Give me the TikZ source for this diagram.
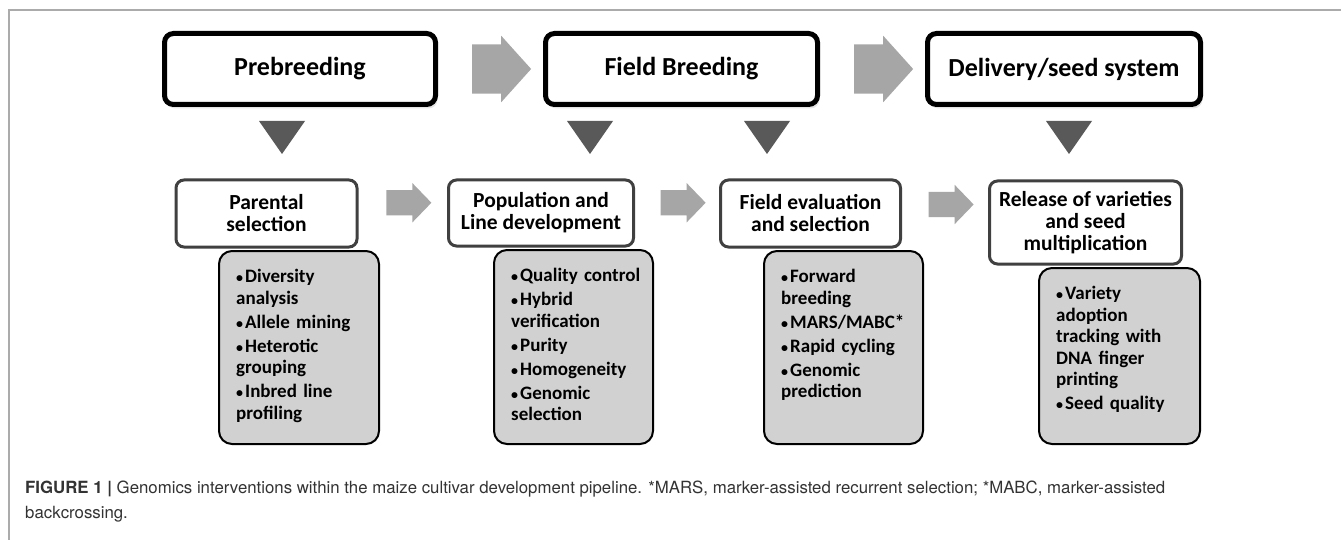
\documentclass[tikz,border=0pt]{standalone}
\usepackage{fontspec}
\setmainfont{Carlito}
\newfontfamily\capfont{TeX Gyre Heros}
\usetikzlibrary{calc}
\usetikzlibrary{shapes.arrows}
\usetikzlibrary{shadows}

\definecolor{arrowgray}{HTML}{A6A6A6}
\definecolor{trigray}{HTML}{595959}
\definecolor{listgray}{HTML}{D1D1D1}
\definecolor{edgegray}{HTML}{404040}
\definecolor{framegray}{HTML}{ABABAB}
\definecolor{capgray}{HTML}{333333}

\newcommand{\bul}[1]{\par\hangindent=9pt\hangafter=1\noindent\makebox[9pt][l]{\fontsize{14}{14}\selectfont\textbullet}#1}

\tikzset{
	stagebox/.style={draw=black, line width=5pt, rounded corners=9pt, fill=white, align=center, inner sep=0pt, font=\fontsize{26}{30}\selectfont\bfseries, drop shadow={shadow xshift=2pt, shadow yshift=-4pt, opacity=0.2}},
	stepbox/.style={draw=edgegray, line width=3pt, rounded corners=8pt, fill=white, align=center, inner sep=0pt, font=\fontsize{21.5}{22}\selectfont\bfseries},
	listbox/.style={draw=black, line width=2pt, rounded corners=13pt, fill=listgray, inner sep=0pt},
	listtext/.style={anchor=north west, inner sep=0pt, text width=145pt, align=left, font=\fontsize{19}{21.5}\selectfont\bfseries\setlength{\parskip}{2.5pt}},
	bigarrow/.style={single arrow, fill=arrowgray, inner xsep=0pt, inner ysep=24.5pt, minimum height=59pt, single arrow head extend=8.5pt, single arrow tip angle=96},
	smallarrow/.style={single arrow, fill=arrowgray, inner xsep=0pt, inner ysep=12.5pt, minimum height=45pt, single arrow head extend=7pt, single arrow tip angle=92},
}

\begin{document}
\begin{tikzpicture}[x=1pt, y=-1pt]
	\useasboundingbox (0,0) rectangle (1341,540);
	\fill[white] (0,0) rectangle (1341,540);
	\draw[framegray, line width=1.5pt] (9,540) -- (9,10) -- (1341,10);

	% stages
	\node[stagebox, minimum width=271pt, minimum height=71pt] (pre) at (300,69) {Prebreeding};
	\node[stagebox, minimum width=272pt, minimum height=71pt] (fb) at (681.5,69) {Field Breeding};
	\node[stagebox, minimum width=273pt, minimum height=71pt] (del) at (1064,69) {Delivery/seed system};

	\node[bigarrow] (a1) at ($(pre.east)!0.5!(fb.west)$) {};
	\node[bigarrow] (a2) at ($(fb.east)!0.5!(del.west)$) {};

	\foreach \x in {282,590,767,1069}
		\fill[trigray] (\x-23,121) -- ++(46,0) -- ++(-23,33) -- cycle;

	% steps
	\node[stepbox, minimum width=181pt, minimum height=67pt] (par) at (266.5,213.5) {Parental\\selection};
	\node[listbox, minimum width=160pt, minimum height=193pt] (g1) at (299,347.5) {};
	\node[listtext] (t1) at ([xshift=18pt, yshift=-8.5pt]g1.north west) {%
		\bul{Diversity\\analysis}
		\bul{Allele mining}
		\bul{Heterotic\\grouping}
		\bul{Inbred line\\profiling}};

	\node[stepbox, minimum width=185pt, minimum height=66pt] (pop) at (541,213) {Population and\\Line development};
	\node[listbox, minimum width=159pt, minimum height=194pt] (g2) at (573.5,347) {};
	\node[listtext] (t2) at ([xshift=18pt, yshift=-8.5pt]g2.north west) {%
		\bul{Quality control}
		\bul{Hybrid\\verification}
		\bul{Purity}
		\bul{Homogeneity}
		\bul{Genomic\\selection}};

	\node[stepbox, minimum width=180pt, minimum height=67pt] (fev) at (810.5,213.5) {Field evaluation\\and selection};
	\node[listbox, minimum width=159pt, minimum height=193pt] (g3) at (843.5,347.5) {};
	\node[listtext] (t3) at ([xshift=18pt, yshift=-8.5pt]g3.north west) {%
		\bul{Forward\\breeding}
		\bul{MARS/MABC*}
		\bul{Rapid cycling}
		\bul{Genomic\\prediction}};

	\node[stepbox, minimum width=192pt, minimum height=83pt] (rel) at (1085.5,222.5) {Release of varieties\\and seed\\multiplication};
	\node[listbox, minimum width=161pt, minimum height=176pt] (g4) at (1119.5,356) {};
	\node[listtext] (t4) at ([xshift=18pt, yshift=-8.5pt]g4.north west) {%
		\bul{Variety\\adoption\\tracking with\\DNA finger\\printing}
		\bul{Seed quality}};

	\node[smallarrow] (s1) at ($(par.east)!0.5!(pop.west)+(0,-10.5)$) {};
	\node[smallarrow] (s2) at ($(pop.east)!0.5!(fev.west)+(0,-10.5)$) {};
	\node[smallarrow] (s3) at ($(fev.east)!0.5!(rel.west)+(0,-13.5)$) {};

	% caption
	\node[anchor=north west, inner sep=0pt, align=left, text=capgray, font=\capfont\fontsize{16.8}{25}\selectfont] (cap) at (25,481)
		{\textbf{FIGURE 1 |} Genomics interventions within the maize cultivar development pipeline. *MARS, marker-assisted recurrent selection; *MABC, marker-assisted\\backcrossing.};
\end{tikzpicture}
\end{document}
